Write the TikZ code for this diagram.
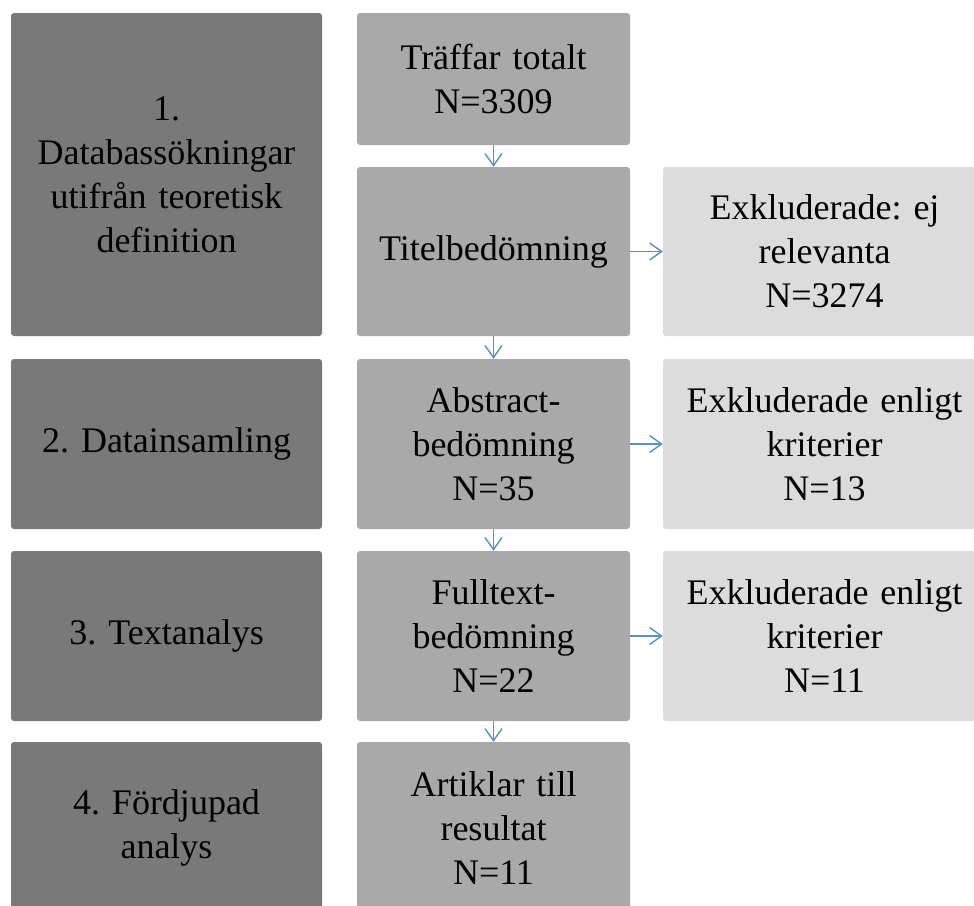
\documentclass[tikz,border=0pt]{standalone}
\usepackage{fontspec}
\setmainfont{Liberation Serif}
\usetikzlibrary{arrows.meta}
\definecolor{darkbox}{HTML}{787978}
\definecolor{midbox}{HTML}{A9A9A9}
\definecolor{lightbox}{HTML}{DCDCDC}
\definecolor{arrowblue}{HTML}{5B8DD3}
\frenchspacing
\tikzset{
  x=1pt,y=1pt,
  box/.style={rounded corners=3pt, inner sep=0pt, align=center,
    font=\fontsize{36}{44}\selectfont\frenchspacing, text=black},
  flow/.style={draw=arrowblue, line width=1.4pt, -{Straight Barb[length=12pt,width=17pt,line width=1.4pt]}}
}
\newcommand{\boxat}[7]{% name, color, x1, y1, x2, y2, text
  \node[box, fill=#2, minimum width={#5-#3}, minimum height={#6-#4}, text width={#5-#3-6}]
    (#1) at ({(#3+#5)/2},{-(#4+#6)/2}) {#7};}
\begin{document}
\begin{tikzpicture}
\useasboundingbox (0,0) rectangle (974,-905);
% left column
\boxat{L1}{darkbox}{11}{13}{322}{336}{1.\\Databassökningar\\utifrån teoretisk\\definition}
\boxat{L2}{darkbox}{11}{359}{322}{529}{2. Datainsamling}
\boxat{L3}{darkbox}{11}{551}{322}{721}{3. Textanalys}
\boxat{L4}{darkbox}{11}{742}{322}{914}{4. Fördjupad\\analys}
% middle column
\boxat{A}{midbox}{357}{13}{630}{145}{Träffar totalt\\N=3309}
\boxat{B}{midbox}{357}{167}{630}{336}{Titelbedömning}
\boxat{C}{midbox}{357}{359}{630}{529}{Abstract-\\bedömning\\N=35}
\boxat{D}{midbox}{357}{551}{630}{721}{Fulltext-\\bedömning\\N=22}
\boxat{E}{midbox}{357}{742}{630}{914}{Artiklar till\\resultat\\N=11}
% right column
\boxat{R1}{lightbox}{663}{167}{986}{336}{Exkluderade: ej\\relevanta\\N=3274}
\boxat{R2}{lightbox}{663}{359}{986}{529}{Exkluderade enligt\\kriterier\\N=13}
\boxat{R3}{lightbox}{663}{551}{986}{721}{Exkluderade enligt\\kriterier\\N=11}
% connectors
\draw[flow] (A.south) -- (B.north);
\draw[flow] (B.south) -- (C.north);
\draw[flow] (C.south) -- (D.north);
\draw[flow] (D.south) -- (E.north);
\draw[flow] (B.east) -- (R1.west);
\draw[flow] (C.east) -- (R2.west);
\draw[flow] (D.east) -- (R3.west);
\end{tikzpicture}
\end{document}
